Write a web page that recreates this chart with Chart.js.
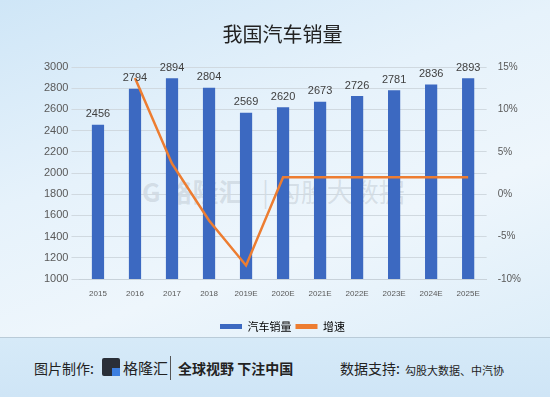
<!DOCTYPE html>
<html>
<head>
<meta charset="utf-8">
<script src="https://cdn.jsdelivr.net/npm/chart.js@4"></script>
<style>
  html, body { margin: 0; padding: 0; }
  body { width: 550px; height: 397px; overflow: hidden; font-family: "Noto Sans CJK SC", sans-serif; }
  .wrap { position: relative; width: 550px; height: 397px;
    background: linear-gradient(160deg, #cfe6f7 0%, #e6f2fb 35%, #eef6fc 60%, #d8ebf8 100%); }
  .chartbox { position: absolute; left: 0; top: 0; width: 550px; height: 342px; }
  .sep { position: absolute; left: 0; top: 337px; width: 550px; height: 1px; background: #b9cbd8; }
  .foot { position: absolute; left: 0; top: 338px; width: 550px; height: 59px;
    background: linear-gradient(180deg, #d6eaf8, #cfe5f6); color: #222; }
  .foot span { position: absolute; top: 22px; font-size: 14px; line-height: 16px; }
  .logo { position: absolute; left: 102px; top: 20px; width: 18px; height: 18px; background: #2a2f38; border-radius: 2px; }
  .logo:after { content: ""; position: absolute; right: 0; bottom: 0; width: 8px; height: 8px; background: #3d7fe0; }
  .vbar { position: absolute; left: 170px; top: 18px; width: 1px; height: 24px; background: #555; }
  .wm { position: absolute; top: 172px; font-size: 26px; color: rgba(120,130,140,0.2); font-weight: bold; }
</style>
</head>
<body>
<div class="wrap">
  <div class="wm" style="left:142px">G 格隆汇</div>
  <div class="wm" style="left:262px;font-weight:normal">| 勾股大数据</div>
  <div class="chartbox"><canvas id="myChart"></canvas></div>
  <div class="sep"></div>
  <div class="foot">
    <span style="left:34px">图片制作:</span>
    <div class="logo"></div>
    <span style="left:123px;font-size:15px">格隆汇</span>
    <div class="vbar"></div>
    <span style="left:178px;font-weight:bold">全球视野 下注中国</span>
    <span style="left:340px">数据支持:</span>
    <span style="left:405px;font-size:11px;top:24px">勾股大数据、中汽协</span>
  </div>
</div>
<script>
/* 데이터 */
const years = ['2015', '2016', '2017', '2018', '2019E', '2020E', '2021E', '2022E', '2023E', '2024E', '2025E'];
const sales = [2456, 2794, 2894, 2804, 2569, 2620, 2673, 2726, 2781, 2836, 2893];
const growth = [null, 13.7, 3.6, -3.1, -8.4, 2.0, 2.0, 2.0, 2.0, 2.0, 2.0];
const leftTicks = [1000, 1200, 1400, 1600, 1800, 2000, 2200, 2400, 2600, 2800, 3000];
const rightTicks = [-10, -5, 0, 5, 10, 15];

/* 막대 위 숫자 */
const barLabels = {
  id: 'barLabels',
  afterDatasetsDraw(chart) {
    const c = chart.ctx;
    const meta = chart.getDatasetMeta(1);
    c.save();
    c.font = '11px "Liberation Sans", sans-serif';
    c.fillStyle = '#404040';
    c.textAlign = 'center';
    c.textBaseline = 'bottom';
    meta.data.forEach(function(bar, i){
      c.fillText(sales[i], bar.x, bar.y - 5);
    });
    c.restore();
  }
};

const ctx = document.getElementById('myChart');

const myChart = new Chart(ctx, {
  data: {
    labels: years,
    datasets: [{
      type: 'line',
      label: '增速',
      data: growth,
      yAxisID: 'y1',
      borderColor: '#ed7d31',
      backgroundColor: '#ed7d31',
      borderWidth: 2.5,
      pointRadius: 0,
      tension: 0,
      order: 0
    }, {
      type: 'bar',
      label: '汽车销量',
      data: sales,
      yAxisID: 'y',
      backgroundColor: '#3c69c1',
      barPercentage: 0.33,
      categoryPercentage: 1,
      order: 1
    }]
  },
  options: {
    responsive: true,
    maintainAspectRatio: false,
    animation: false,
    layout: { padding: { left: 41, right: 26, top: 4, bottom: 0 } },
    plugins: {
      title: {
        display: true,
        text: '我国汽车销量',
        color: '#222',
        font: { size: 20, family: '"Noto Sans CJK SC"', weight: 'normal' },
        padding: { top: 18, bottom: 21 }
      },
      legend: {
        position: 'bottom',
        reverse: true,
        labels: {
          color: '#595959',
          font: { size: 11, family: '"Noto Sans CJK SC"' },
          boxWidth: 22,
          boxHeight: 5,
          padding: 4,
          generateLabels(chart) {
            return chart.data.datasets.map(function(ds, i){
              return {
                text: ds.label,
                fillStyle: ds.type === 'bar' ? '#3c69c1' : '#ed7d31',
                strokeStyle: ds.type === 'bar' ? '#3c69c1' : '#ed7d31',
                lineWidth: 0,
                datasetIndex: i,
                hidden: false
              };
            });
          }
        }
      },
      tooltip: { enabled: false }
    },
    scales: {
      x: {
        grid: { display: false },
        border: { color: '#c8d2da' },
        ticks: { color: '#595959', font: { size: 8 }, maxRotation: 0, padding: 2 },
        afterFit(axis) { axis.height = 38; }
      },
      y: {
        position: 'left',
        min: 1000,
        max: 3000,
        afterBuildTicks(axis) { axis.ticks = leftTicks.map(v => ({ value: v })); },
        grid: { color: '#d0d9e0' },
        border: { display: false },
        ticks: { color: '#595959', font: { size: 11 }, callback: v => String(v) }
      },
      y1: {
        position: 'right',
        min: -10,
        max: 15,
        afterBuildTicks(axis) { axis.ticks = rightTicks.map(v => ({ value: v })); },
        grid: { display: false },
        border: { display: false },
        ticks: { color: '#595959', font: { size: 10 }, callback: v => v + '%' }
      }
    }
  },
  plugins: [barLabels]
});
</script>
</body>
</html>
